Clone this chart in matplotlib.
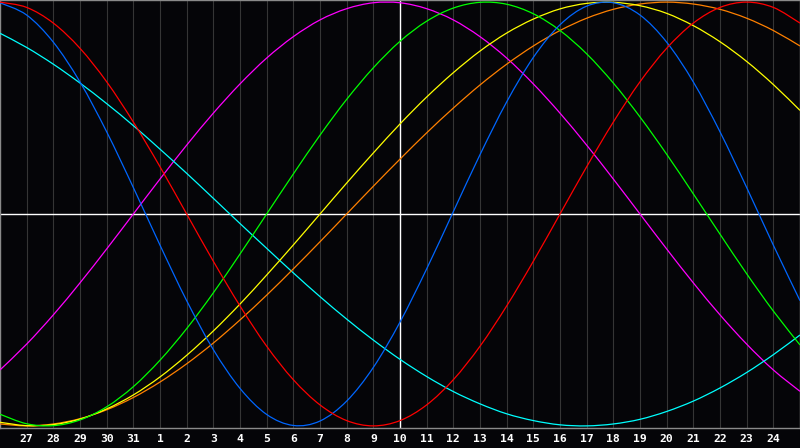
import matplotlib
matplotlib.use("Agg")
import matplotlib.pyplot as plt
from matplotlib.path import Path
from matplotlib.patches import PathPatch
import numpy as np

# day labels along the bottom (one per grid line)
day_labels = ["27", "28", "29", "30", "31", "1", "2", "3", "4", "5", "6", "7", "8",
              "9", "10", "11", "12", "13", "14", "15", "16", "17", "18", "19", "20",
              "21", "22", "23", "24"]

# daily values (-1..1), one per day from the left edge
blue = [0.997, 0.939, 0.811, 0.623, 0.388, 0.125, -0.147, -0.409, -0.640, -0.823,
        -0.946, -0.998, -0.977, -0.883, -0.724, -0.510, -0.259, 0.011, 0.280,
        0.529, 0.739, 0.893, 0.981, 0.997, 0.939, 0.811, 0.623, 0.388, 0.125,
        -0.147, -0.409]
red = [1.000, 0.975, 0.901, 0.782, 0.624, 0.434, 0.223, 0.000, -0.223, -0.434,
       -0.624, -0.782, -0.901, -0.975, -1.000, -0.975, -0.901, -0.782, -0.624,
       -0.434, -0.223, 0.000, 0.223, 0.434, 0.624, 0.782, 0.901, 0.975, 1.000,
       0.975, 0.901]
green = [-0.945, -0.990, -0.999, -0.972, -0.910, -0.815, -0.690, -0.541, -0.372,
         -0.189, 0.000, 0.189, 0.372, 0.541, 0.690, 0.815, 0.910, 0.972, 0.999,
         0.990, 0.945, 0.866, 0.756, 0.618, 0.458, 0.282, 0.095, -0.095, -0.282,
         -0.458, -0.618]
cyan = [0.853, 0.786, 0.707, 0.618, 0.521, 0.417, 0.306, 0.192, 0.074, -0.045,
        -0.162, -0.278, -0.390, -0.496, -0.595, -0.686, -0.767, -0.838, -0.896,
        -0.943, -0.975, -0.995, -1.000, -0.991, -0.969, -0.932, -0.883, -0.821,
        -0.748, -0.664, -0.571]
magenta = [-0.736, -0.614, -0.476, -0.325, -0.165, 0.000, 0.165, 0.325, 0.476,
           0.614, 0.736, 0.837, 0.916, 0.969, 0.997, 0.997, 0.969, 0.916, 0.837,
           0.736, 0.614, 0.476, 0.325, 0.165, 0.000, -0.165, -0.325, -0.476,
           -0.614, -0.736, -0.837]
yellow = [-0.983, -0.999, -0.994, -0.968, -0.920, -0.854, -0.769, -0.667, -0.552,
          -0.425, -0.288, -0.146, 0.000, 0.146, 0.288, 0.425, 0.552, 0.667, 0.769,
          0.854, 0.920, 0.968, 0.994, 0.999, 0.983, 0.947, 0.889, 0.813, 0.720,
          0.611, 0.489]
orange = [-0.991, -1.000, -0.991, -0.966, -0.924, -0.866, -0.793, -0.707, -0.609,
          -0.500, -0.383, -0.259, -0.131, 0.000, 0.131, 0.259, 0.383, 0.500, 0.609,
          0.707, 0.793, 0.866, 0.924, 0.966, 0.991, 1.000, 0.991, 0.966, 0.924,
          0.866, 0.793]

series = [
    (magenta, "#ff00ff"),
    (cyan, "#00ffff"),
    (orange, "#ff8000"),
    (yellow, "#ffff00"),
    (green, "#00ff00"),
    (blue, "#0066ff"),
    (red, "#ff0000"),
]


def smooth_path(xs, ys):
    # Catmull-Rom style cubic segments through the daily points
    pts = np.column_stack([xs, ys]).astype(float)
    ext = np.vstack([pts[0], pts, pts[-1]])
    verts = [pts[0]]
    codes = [Path.MOVETO]
    for i in range(len(pts) - 1):
        p0, p1, p2, p3 = ext[i], ext[i + 1], ext[i + 2], ext[i + 3]
        verts += [p1 + (p2 - p0) / 6, p2 - (p3 - p1) / 6, p2]
        codes += [Path.CURVE4] * 3
    return Path(verts, codes)


fig = plt.figure(figsize=(8, 4.48), dpi=100, facecolor="#050508")
ax = fig.add_axes([0, 20 / 448, 1, 428 / 448])
ax.set_facecolor("#050508")

days = np.arange(len(red))
ax.set_xlim(0, len(red) - 1)
ax.set_ylim(-1.01, 1.01)

# day grid lines
for i in range(1, len(day_labels) + 1):
    ax.axvline(i, color="#353535", lw=0.8, zorder=1)

# centre cross
ax.axhline(0, color="white", lw=1.0, zorder=2)
ax.axvline(15, color="white", lw=1.0, zorder=2)

for vals, col in series:
    ax.add_patch(PathPatch(smooth_path(days, vals), facecolor="none",
                           edgecolor=col, lw=0.9, zorder=3))

ax.set_yticks([])
ax.set_xticks(np.arange(1, len(day_labels) + 1))
ax.set_xticklabels(day_labels, color="white", fontsize=8.2,
                   fontweight="bold", family="DejaVu Sans Mono")
ax.tick_params(axis="x", length=0, pad=4)
for s in ax.spines.values():
    s.set_color("#8a8a8a")
    s.set_linewidth(1.0)

fig.savefig("out.png", dpi=100, facecolor=fig.get_facecolor())
